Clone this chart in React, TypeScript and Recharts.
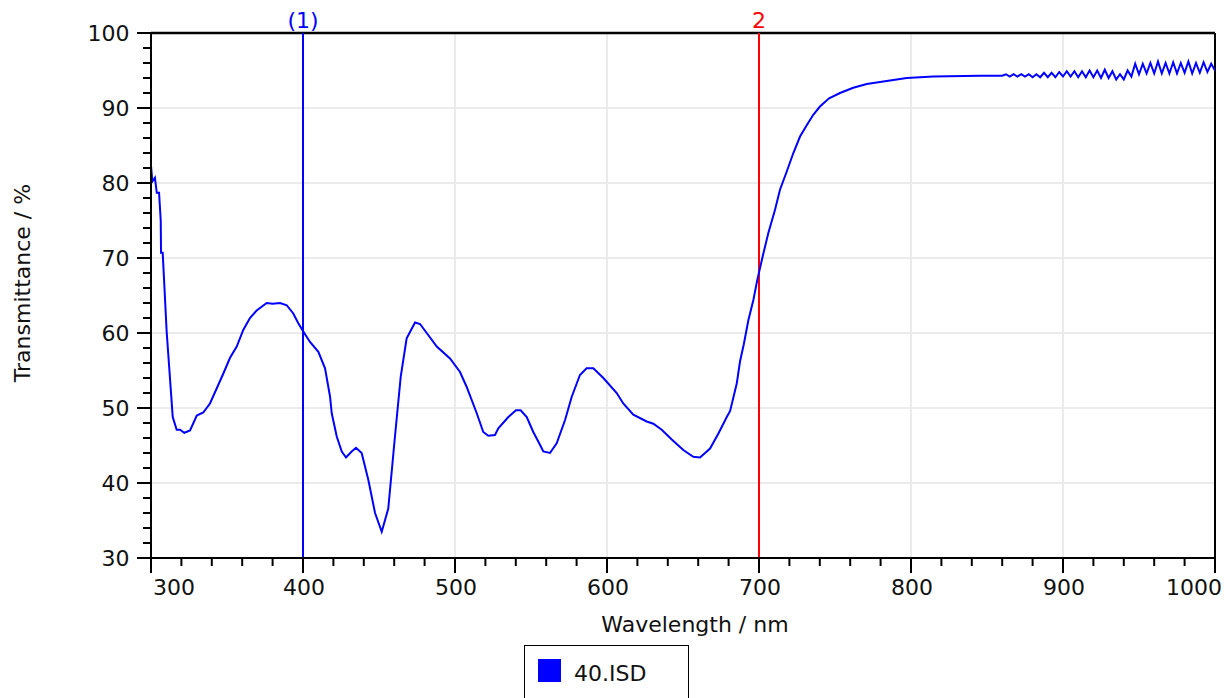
import React from 'react';
import { LineChart, Line, XAxis, YAxis, ReferenceLine, Legend } from 'recharts';

const wavelengths = [
  300, 300.9, 302.6, 303.8, 305.3, 306.4, 306.6, 307.7, 310.3, 314.3,
  316.9, 319.1, 321.9, 325.7, 330.1, 334.4, 338.8, 343.2, 347.6, 352.0,
  356.4, 360.7, 365.1, 369.5, 376.1, 380.0, 384.9, 389.3, 393.6, 396.9,
  400.2, 404.6, 410.1, 414.5, 417.8, 418.9, 422.2, 425.5, 428.3, 432.0,
  434.9, 438.6, 443.0, 447.4, 451.8, 456.1, 460.5, 464.3, 468.2, 473.7,
  477.0, 481.4, 488.0, 496.7, 503.3, 507.7, 514.3, 518.6, 521.9, 526.3,
  528.5, 535.1, 540.1, 543.2, 547.2, 551.5, 555.9, 558.1, 562.5, 566.9,
  572.4, 576.8, 582.2, 586.6, 591.0, 597.6, 606.4, 610.7, 617.3, 626.1,
  630.5, 636.0, 642.6, 650.2, 656.8, 661.2, 667.8, 673.3, 678.8, 681.0,
  685.4, 687.5, 690.0, 693.0, 696.3, 698.9, 702.4, 706.1, 710.5, 713.8,
  718.2, 722.6, 727.0, 731.4, 735.7, 740.1, 746.1, 753.3, 762.0, 770.9,
  784.0, 797.2, 814.7, 845.4, 858.0,
  860, 862.5, 865, 867.5, 870, 872.5, 875, 877.5, 880, 882.5,
  885, 887.5, 890, 892.5, 895, 897.5, 900, 902.5, 905, 907.5,
  910, 912.5, 915, 917.5, 920, 922.5, 925, 927.5, 930, 932.5,
  935, 937.5, 940, 942.5, 945, 947.5, 950, 952.5, 955, 957.5,
  960, 962.5, 965, 967.5, 970, 972.5, 975, 977.5, 980, 982.5,
  985, 987.5, 990, 992.5, 995, 997.5, 1000,
];

const transmittance = [
  82.3, 80.2, 80.7, 78.7, 78.7, 75.0, 70.7, 70.7, 60.2, 48.8,
  47.1, 47.1, 46.7, 47.0, 49.0, 49.4, 50.6, 52.6, 54.6, 56.7,
  58.2, 60.4, 62.0, 63.0, 64.0, 63.9, 64.0, 63.7, 62.6, 61.3,
  60.2, 58.8, 57.5, 55.3, 51.5, 49.3, 46.2, 44.2, 43.4, 44.2,
  44.7, 44.0, 40.4, 36.0, 33.5, 36.6, 46.2, 54.2, 59.3, 61.4,
  61.2, 60.0, 58.2, 56.6, 54.8, 52.8, 49.3, 46.8, 46.3, 46.4,
  47.3, 48.8, 49.7, 49.7, 48.8, 46.8, 45.1, 44.2, 44.0, 45.3,
  48.4, 51.5, 54.4, 55.3, 55.3, 54.0, 52.0, 50.6, 49.1, 48.2,
  47.9, 47.1, 45.8, 44.4, 43.5, 43.4, 44.6, 46.6, 48.8, 49.6,
  53.3, 56.2, 58.5, 61.7, 64.4, 67.1, 70.2, 73.3, 76.4, 79.1,
  81.5, 84.0, 86.2, 87.7, 89.1, 90.2, 91.3, 92.0, 92.7, 93.2,
  93.6, 94.0, 94.2, 94.3, 94.3,
  94.3, 94.5, 94.2, 94.5, 94.2, 94.5, 94.2, 94.5, 94.1, 94.5,
  94.1, 94.7, 94.1, 94.7, 94.1, 94.8, 94.2, 94.9, 94.2, 94.9,
  94.1, 94.9, 94.1, 95.0, 94.1, 95.0, 94.0, 95.1, 94.0, 94.9,
  93.8, 94.5, 93.8, 95.0, 94.2, 95.9, 94.5, 95.9, 94.6, 96.0,
  94.6, 96.2, 94.6, 96.0, 94.6, 96.1, 94.6, 96.0, 94.7, 96.2,
  94.6, 96.0, 94.7, 96.1, 94.8, 95.9, 95.0,
];

const xTicks = [
  300, 320, 340, 360, 380, 400, 420, 440, 460, 480, 500, 520, 540, 560, 580,
  600, 620, 640, 660, 680, 700, 720, 740, 760, 780, 800, 820, 840, 860, 880,
  900, 920, 940, 960, 980, 1000,
];
const yTicks = [
  30, 32, 34, 36, 38, 40, 42, 44, 46, 48, 50, 52, 54, 56, 58, 60, 62, 64, 66, 68,
  70, 72, 74, 76, 78, 80, 82, 84, 86, 88, 90, 92, 94, 96, 98, 100,
];
const xGridValues = [400, 500, 600, 700, 800, 900];
const yGridValues = [40, 50, 60, 70, 80, 90];

const seriesName = '40.ISD';
const marker1 = { x: 400, label: '(1)', color: '#0000ff' };
const marker2 = { x: 700, label: '2', color: '#ff0000' };

const data = wavelengths.map((wl, i) => ({ wl, t: transmittance[i] }));

const FONT = '"DejaVu Sans", sans-serif';

const XTick = (props: any) => {
  const { x, y, payload } = props;
  const v = payload.value;
  const major = v % 100 === 0;
  let anchor: any = 'middle';
  let dx = 1;
  if (v === 300) { anchor = 'start'; dx = 2; }
  if (v === 1000) { anchor = 'end'; dx = 7; }
  return (
    <g>
      <line x1={x} x2={x} y1={y} y2={y + (major ? 15 : 8)} stroke="#000" strokeWidth={2} />
      {major && (
        <text x={x + dx} y={y + 36.5} textAnchor={anchor} fontFamily={FONT} fontSize={22} fill="#111">
          {v}
        </text>
      )}
    </g>
  );
};

const YTick = (props: any) => {
  const { x, y, payload } = props;
  const v = payload.value;
  const major = v % 10 === 0;
  return (
    <g>
      <line x1={x - (major ? 14 : 8)} x2={x} y1={y} y2={y} stroke="#000" strokeWidth={2} />
      {major && (
        <text x={x - 21.5} y={y} dy="0.36em" textAnchor="end" fontFamily={FONT} fontSize={22} fill="#111">
          {v}
        </text>
      )}
    </g>
  );
};

const renderLegend = (props: any) => {
  const item = (props.payload && props.payload[0]) || { value: seriesName, color: '#0000ff' };
  return (
    <div
      style={{
        position: 'relative',
        width: 165,
        height: 60,
        border: '1.5px solid #000',
        boxSizing: 'border-box',
        background: '#fff',
      }}
    >
      <span
        style={{
          position: 'absolute',
          left: 13,
          top: 12.5,
          width: 23,
          height: 23,
          background: item.color || '#0000ff',
        }}
      />
      <span
        style={{
          position: 'absolute',
          left: 49,
          top: 16.6,
          fontFamily: FONT,
          fontSize: 22,
          lineHeight: '22px',
          color: '#111',
          whiteSpace: 'nowrap',
        }}
      >
        {item.value}
      </span>
    </div>
  );
};

export default function App() {
  return (
    <div style={{ position: 'absolute', left: 0, top: 0, width: 1229, height: 698, background: '#fff', overflow: 'hidden' }}>
      <LineChart width={1229} height={698} data={data} margin={{ top: 33, right: 14, bottom: 0, left: 0 }}>
        {xGridValues.map((v) => (
          <ReferenceLine key={'gx' + v} x={v} stroke="#ebebeb" strokeWidth={2} />
        ))}
        {yGridValues.map((v) => (
          <ReferenceLine key={'gy' + v} y={v} stroke="#ebebeb" strokeWidth={2} />
        ))}
        <XAxis
          dataKey="wl"
          type="number"
          domain={[300, 1000]}
          ticks={xTicks}
          interval={0}
          allowDataOverflow
          height={140}
          tickSize={0}
          tickMargin={0}
          tickLine={false}
          axisLine={{ stroke: '#000', strokeWidth: 2 }}
          tick={<XTick />}
          label={(p: any) => {
            const vb = p.viewBox || { x: 151, y: 558, width: 1064 };
            return (
              <text x={vb.x + vb.width / 2 + 12} y={vb.y + 74} textAnchor="middle" fontFamily={FONT} fontSize={22} fill="#111">
                Wavelength / nm
              </text>
            );
          }}
        />
        <YAxis
          type="number"
          domain={[30, 100]}
          ticks={yTicks}
          interval={0}
          allowDataOverflow
          width={151}
          tickSize={0}
          tickMargin={0}
          tickLine={false}
          axisLine={{ stroke: '#000', strokeWidth: 2 }}
          tick={<YTick />}
          label={(p: any) => {
            const vb = p.viewBox || { x: 0, y: 33, height: 525 };
            const cy = vb.y + vb.height / 2 - 12.5;
            return (
              <text x={29.5} y={cy} transform={`rotate(-90, 29.5, ${cy})`} textAnchor="middle" fontFamily={FONT} fontSize={22} fill="#111">
                Transmittance / %
              </text>
            );
          }}
        />
        <ReferenceLine y={100} stroke="#000" strokeWidth={2.5} />
        <ReferenceLine x={1000} stroke="#000" strokeWidth={2} />
        <ReferenceLine
          x={marker1.x}
          stroke={marker1.color}
          strokeWidth={2}
          label={{ value: marker1.label, position: 'top', fill: marker1.color, fontSize: 22, fontFamily: FONT, offset: 5 }}
        />
        <ReferenceLine
          x={marker2.x}
          stroke={marker2.color}
          strokeWidth={2}
          label={{ value: marker2.label, position: 'top', fill: marker2.color, fontSize: 22, fontFamily: FONT, offset: 5 }}
        />
        <Line
          type="linear"
          dataKey="t"
          name={seriesName}
          stroke="#0000ff"
          strokeWidth={2}
          dot={false}
          activeDot={false}
          isAnimationActive={false}
        />
        <Legend
          layout="vertical"
          align="center"
          verticalAlign="middle"
          content={renderLegend}
          wrapperStyle={{ position: 'absolute', left: 524, top: 645, width: 165, height: 60 }}
        />
      </LineChart>
    </div>
  );
}
